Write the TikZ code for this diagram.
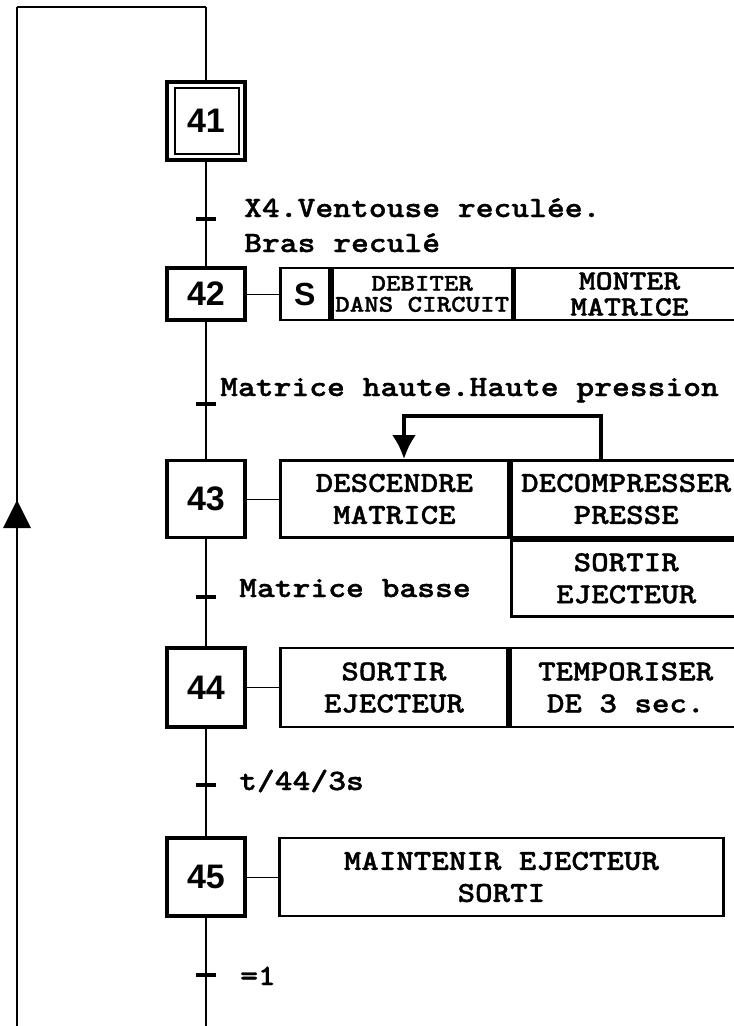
\documentclass[tikz,border=0pt]{standalone}
\usepackage{fontspec}
\usetikzlibrary{calc,arrows.meta}
\newfontfamily\arialf{Liberation Sans}
\newfontfamily\courf{lmmonolt10-bold.otf}[FakeStretch=1.15,FakeBold=1.2]
\newcommand\labf{\arialf\bfseries\fontsize{34}{38}\selectfont}
\newcommand\actf{\courf\fontsize{29}{32}\selectfont}
\newcommand\actff{\courf\fontsize{28}{26}\selectfont}
\newcommand\smallf{\courf\fontsize{24}{21}\selectfont}
\newcommand\trf{\courf\fontsize{29.5}{36}\selectfont}
\tikzset{
  flow/.style={line width=1.8pt},
  toprule/.style={line width=1.3pt},
  stepbox/.style={draw, line width=3.4pt, fill=white, minimum width=78pt, inner sep=0pt, font=\labf},
  innerbox/.style={line width=1.8pt},
  actcell/.style={draw, line width=2.8pt, fill=white, inner sep=0pt, align=center, font=\actf, anchor=west},
  link/.style={line width=1pt},
  tick/.style={line width=3.8pt},
  trlabel/.style={anchor=base west, inner sep=0pt, font=\trf},
  fb/.style={line width=4pt}
}
\begin{document}
\begin{tikzpicture}[x=1pt,y=-1pt]
\fill[white] (0,0) rectangle (734,1026);
\useasboundingbox (0,0) rectangle (734,1026);

% loop coordinates
\coordinate (topR) at (206,7);
\coordinate (topL) at (17,7);
\coordinate (botL) at (17,1032);
\coordinate (bot) at (206,1032);

% transition ticks
\coordinate (t1) at (206,219);
\coordinate (t2) at (206,404);
\coordinate (t3) at (206,597);
\coordinate (t4) at (206,785);
\coordinate (t5) at (206,975);

% main vertical and loop
\draw[flow] (bot) -- (topR);
\draw[flow] (botL) -- (topL);
\draw[toprule] (topL) -- (topR);
\fill (17,500) -- (31,528) -- (3,528) -- cycle;

% steps
\node[stepbox, minimum height=78pt] (s41) at (206,121) {41};
\draw[innerbox] ($(s41.north west)+(10,8)$) rectangle ($(s41.south east)+(-8,-8)$);
\node[stepbox, minimum height=52pt] (s42) at (206,294) {42};
\node[stepbox, minimum height=77pt] (s43) at (206,499) {43};
\node[stepbox, minimum height=79pt] (s44) at (206,687.5) {44};
\node[stepbox, minimum height=78pt] (s45) at (206,877) {45};

% ticks
\foreach \t in {t1,t2,t3,t4,t5}
  \draw[tick] ($(\t)+(-10,0)$) -- ($(\t)+(10,0)$);

% transition labels
\node[trlabel] (c1a) at (244,217) {X4.Ventouse reculée.};
\node[trlabel] (c1b) at (244,252) {Bras reculé};
\node[trlabel] (c2) at (220,396) {Matrice haute.Haute pression};
\node[trlabel] (c3) at (239,597) {Matrice basse};
\node[trlabel] (c4) at (239,790) {t/44/3s};
\node[trlabel] (c5) at (240,985) {=1};

% actions 42
\node[actcell, minimum width=49pt, minimum height=52pt, font=\arialf\bfseries\fontsize{32}{34}\selectfont] (a42s) at (279,294) {S};
\node[actcell, minimum width=180pt, minimum height=52pt, font=\smallf] (a42d) at (a42s.east) {DEBITER\\DANS CIRCUIT};
\node[actcell, minimum width=229pt, minimum height=52pt, font=\actff] (a42m) at (a42d.east) {MONTER\\MATRICE};
\draw[link] (s42.east) -- (a42s.west);

% actions 43
\node[actcell, minimum width=228pt, minimum height=77pt] (a43d) at (279,499) {DESCENDRE\\MATRICE};
\node[actcell, minimum width=230pt, minimum height=77pt] (a43p) at (a43d.east) {DECOMPRESSER\\PRESSE};
\node[actcell, anchor=north west, minimum width=230pt, minimum height=76pt] (a43e) at (a43p.south west) {SORTIR\\EJECTEUR};
\draw[link] (s43.east) -- (a43d.west);
\draw[fb, -{Latex[length=24pt,width=24pt]}] ($(a43p.north west)+(91,0)$) |- ($(a43d.north west)+(125,-43)$) -- ($(a43d.north west)+(125,0)$);

% actions 44
\node[actcell, minimum width=227pt, minimum height=79pt] (a44s) at (279,687.5) {SORTIR\\EJECTEUR};
\node[actcell, minimum width=231pt, minimum height=79pt] (a44t) at (a44s.east) {TEMPORISER\\DE 3 sec.};
\draw[link] (s44.east) -- (a44s.west);

% actions 45
\node[actcell, minimum width=444pt, minimum height=78pt] (a45) at (278,877) {MAINTENIR EJECTEUR\\SORTI};
\draw[link] (s45.east) -- (a45.west);
\end{tikzpicture}
\end{document}
